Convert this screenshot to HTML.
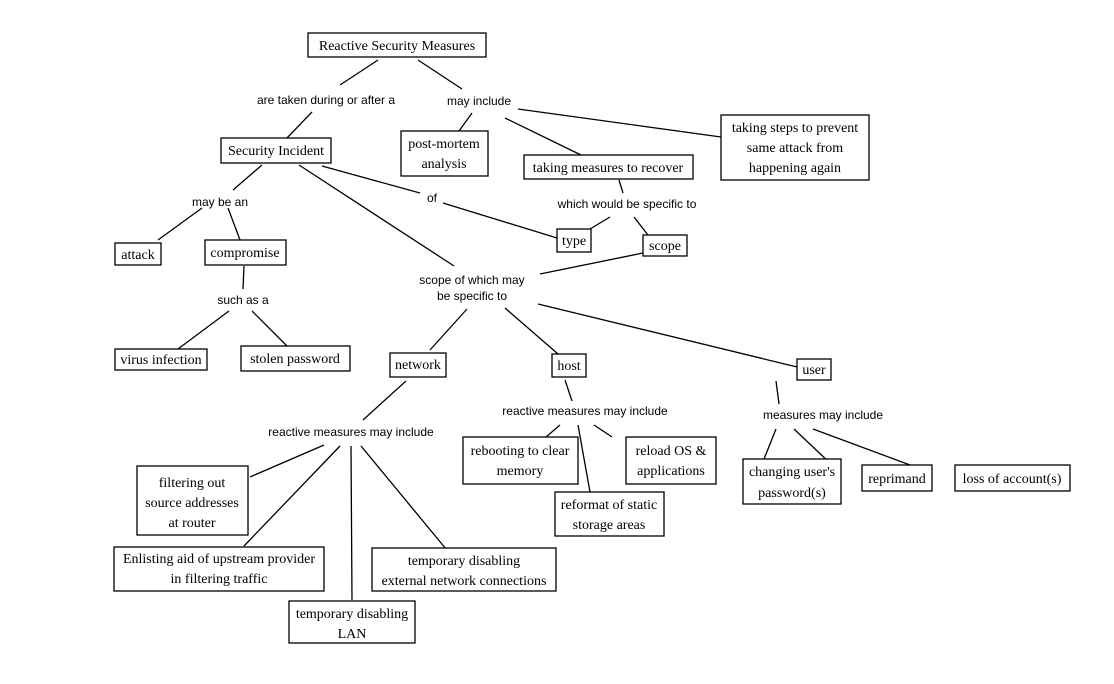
<!DOCTYPE html>
<html><head><meta charset="utf-8"><style>
html,body{margin:0;padding:0;background:#fff;}
svg{display:block;}
.b{fill:#fff;stroke:#000;stroke-width:1.3;}
.s{font-family:"Liberation Serif",serif;font-size:14px;fill:#000;text-anchor:middle;}
.l{font-family:"Liberation Sans",sans-serif;font-size:12px;fill:#000;text-anchor:middle;}
line{stroke:#000;stroke-width:1.3;}
</style></head><body>
<svg width="1114" height="684" viewBox="0 0 1114 684">
<g>
<line x1="378" y1="60" x2="340" y2="85"/><line x1="312" y1="112" x2="287" y2="138"/>
<line x1="418" y1="60" x2="462" y2="89"/>
<line x1="472" y1="113" x2="459" y2="131"/>
<line x1="505" y1="118" x2="581" y2="155"/>
<line x1="518" y1="109" x2="721" y2="137"/>
<line x1="262" y1="165" x2="233" y2="190"/>
<line x1="322" y1="166" x2="420" y2="193"/><line x1="443" y1="203" x2="557" y2="238"/>
<line x1="299" y1="165" x2="454" y2="266"/>
<line x1="619" y1="180" x2="623" y2="193"/>
<line x1="610" y1="217" x2="590" y2="229"/><line x1="634" y1="217" x2="648" y2="235"/>
<line x1="643" y1="253" x2="540" y2="274"/>
<line x1="202" y1="208" x2="158" y2="240"/><line x1="228" y1="208" x2="240" y2="240"/>
<line x1="244" y1="266" x2="243" y2="289"/>
<line x1="229" y1="311" x2="178" y2="349"/><line x1="252" y1="311" x2="287" y2="346"/>
<line x1="467" y1="309" x2="430" y2="350"/>
<line x1="505" y1="308" x2="558" y2="354"/>
<line x1="538" y1="304" x2="797" y2="367"/>
<line x1="406" y1="381" x2="363" y2="420"/>
<line x1="324" y1="445" x2="250" y2="477"/>
<line x1="340" y1="446" x2="244" y2="546"/>
<line x1="351" y1="446" x2="352" y2="600"/>
<line x1="361" y1="446" x2="446" y2="549"/>
<line x1="565" y1="380" x2="572" y2="401"/>
<line x1="560" y1="425" x2="546" y2="437"/>
<line x1="578" y1="425" x2="590" y2="492"/>
<line x1="594" y1="425" x2="612" y2="437"/>
<line x1="776" y1="381" x2="779" y2="404"/>
<line x1="776" y1="429" x2="764" y2="459"/>
<line x1="794" y1="429" x2="832" y2="465"/>
<line x1="813" y1="429" x2="910" y2="465"/>
</g>
<rect class="b" x="308" y="33" width="178" height="24"/><text class="s" x="397" y="50">Reactive Security Measures</text>
<rect class="b" x="221" y="138" width="110" height="25"/><text class="s" x="276" y="155">Security Incident</text>
<rect class="b" x="401" y="131" width="87" height="45"/><text class="s" x="444" y="148">post-mortem</text><text class="s" x="444" y="168">analysis</text>
<rect class="b" x="524" y="155" width="169" height="24"/><text class="s" x="608" y="172">taking measures to recover</text>
<rect class="b" x="721" y="115" width="148" height="65"/><text class="s" x="795" y="132">taking steps to prevent</text><text class="s" x="795" y="152">same attack from</text><text class="s" x="795" y="172">happening again</text>
<rect class="b" x="557" y="229" width="34" height="23"/><text class="s" x="574" y="245">type</text>
<rect class="b" x="643" y="235" width="44" height="21"/><text class="s" x="665" y="250">scope</text>
<rect class="b" x="115" y="243" width="46" height="22"/><text class="s" x="138" y="259">attack</text>
<rect class="b" x="205" y="240" width="81" height="25"/><text class="s" x="245" y="257">compromise</text>
<rect class="b" x="115" y="349" width="92" height="21"/><text class="s" x="161" y="364">virus infection</text>
<rect class="b" x="241" y="346" width="109" height="25"/><text class="s" x="295" y="363">stolen password</text>
<rect class="b" x="390" y="353" width="56" height="24"/><text class="s" x="418" y="369">network</text>
<rect class="b" x="552" y="354" width="34" height="23"/><text class="s" x="569" y="370">host</text>
<rect class="b" x="797" y="359" width="34" height="21"/><text class="s" x="814" y="374">user</text>
<rect class="b" x="463" y="437" width="115" height="47"/><text class="s" x="520" y="455">rebooting to clear</text><text class="s" x="520" y="475">memory</text>
<rect class="b" x="626" y="437" width="90" height="47"/><text class="s" x="671" y="455">reload OS &amp;</text><text class="s" x="671" y="475">applications</text>
<rect class="b" x="555" y="492" width="109" height="44"/><text class="s" x="609" y="509">reformat of static</text><text class="s" x="609" y="529">storage areas</text>
<rect class="b" x="743" y="459" width="98" height="45"/><text class="s" x="792" y="476">changing user's</text><text class="s" x="792" y="497">password(s)</text>
<rect class="b" x="862" y="465" width="70" height="26"/><text class="s" x="897" y="483">reprimand</text>
<rect class="b" x="955" y="465" width="115" height="26"/><text class="s" x="1012" y="483">loss of account(s)</text>
<rect class="b" x="137" y="466" width="111" height="69"/><text class="s" x="192" y="487">filtering out</text><text class="s" x="192" y="507">source addresses</text><text class="s" x="192" y="527">at router</text>
<rect class="b" x="114" y="547" width="210" height="44"/><text class="s" x="219" y="563">Enlisting aid of upstream provider</text><text class="s" x="219" y="583">in filtering traffic</text>
<rect class="b" x="289" y="601" width="126" height="42"/><text class="s" x="352" y="618">temporary disabling</text><text class="s" x="352" y="638">LAN</text>
<rect class="b" x="372" y="548" width="184" height="43"/><text class="s" x="464" y="565">temporary disabling</text><text class="s" x="464" y="585">external network connections</text>
<text class="l" x="326" y="104">are taken during or after a</text>
<text class="l" x="479" y="105">may include</text>
<text class="l" x="220" y="206">may be an</text>
<text class="l" x="432" y="202">of</text>
<text class="l" x="627" y="208">which would be specific to</text>
<text class="l" x="472" y="284">scope of which may</text>
<text class="l" x="472" y="300">be specific to</text>
<text class="l" x="243" y="304">such as a</text>
<text class="l" x="351" y="436">reactive measures may include</text>
<text class="l" x="585" y="415">reactive measures may include</text>
<text class="l" x="823" y="419">measures may include</text>
</svg>
</body></html>
